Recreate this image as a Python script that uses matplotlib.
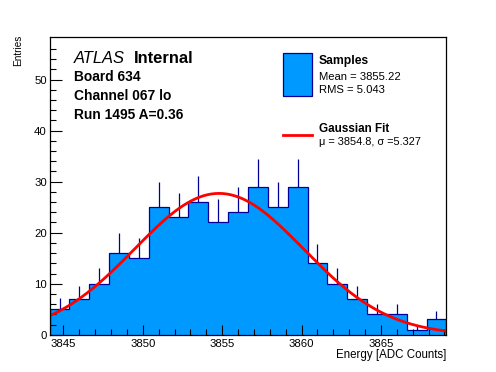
import numpy as np
import matplotlib
matplotlib.use("Agg")
import matplotlib.pyplot as plt
from matplotlib.patches import Rectangle
from matplotlib.lines import Line2D

plt.rcParams['font.family'] = ['Liberation Sans', 'DejaVu Sans']

# histogram data
bin_lo = 3844.125
bin_width = 1.25
counts = [5, 7, 10, 16, 15, 25, 23, 26, 22, 24, 29, 25, 29, 14, 10, 7, 4, 4, 1, 3]

# fit parameters shown in the legend
fit_amp = 27.7
fit_mu = 3854.8
fit_sigma = 5.327

fill_col = '#0099ff'
line_col = '#000099'

W, H = 496, 372
fig = plt.figure(figsize=(W / 100, H / 100), dpi=100)
ax = fig.add_axes([0.1, 0.1, 0.8, 0.8])

counts = np.array(counts, dtype=float)
edges = bin_lo + bin_width * np.arange(len(counts) + 1)
centers = 0.5 * (edges[:-1] + edges[1:])

ax.stairs(counts, edges, fill=True, color=fill_col, lw=0)
ax.stairs(counts, edges, fill=False, color=line_col, lw=0.9)
# upper half of the error bars (lower half is hidden by the fill)
ax.vlines(centers, counts, counts + np.sqrt(counts), color=line_col, lw=0.9)

xs = np.linspace(edges[0], edges[-1], 300)
ax.plot(xs, fit_amp * np.exp(-0.5 * ((xs - fit_mu) / fit_sigma) ** 2), color='#ff0000', lw=2)

ax.set_xlim(edges[0], edges[-1])
ax.set_ylim(0, 58.3)
ax.set_xticks(np.arange(3845, 3870, 5))
ax.set_xticks(np.arange(3845, 3870, 1), minor=True)
ax.set_yticks(np.arange(0, 60, 10))
ax.set_yticks(np.arange(0, 58, 2), minor=True)
ax.tick_params(axis='both', which='both', direction='in', labelsize=8.2, width=0.8)
ax.tick_params(axis='x', which='major', length=7.5, pad=3)
ax.tick_params(axis='x', which='minor', length=4)
ax.tick_params(axis='y', which='major', length=8.5, pad=2)
ax.tick_params(axis='y', which='minor', length=4)
for s in ax.spines.values():
    s.set_linewidth(0.9)


def px(x, y):
    return x / W, 1 - y / H


fig.text(*px(446, 358), 'Energy [ADC Counts]', ha='right', va='baseline', fontsize=8.3)
fig.text(*px(18.5, 35), 'Entries', ha='center', va='top', rotation=90, fontsize=7.2)

fig.text(*px(74, 63), 'ATLAS', style='italic', ha='left', va='baseline', fontsize=11.9)
fig.text(*px(134.3, 63), 'Internal', weight='bold', ha='left', va='baseline', fontsize=11.9)
fig.text(*px(74, 81), 'Board 634', weight='bold', ha='left', va='baseline', fontsize=9.9)
fig.text(*px(74, 100), 'Channel 067 lo', weight='bold', ha='left', va='baseline', fontsize=9.9)
fig.text(*px(74, 119), 'Run 1495 A=0.36', weight='bold', ha='left', va='baseline', fontsize=9.9)

# legend
x0, y0 = px(283.3, 96)
x1, y1 = px(311.7, 53.3)
fig.add_artist(Rectangle((x0, y0), x1 - x0, y1 - y0, transform=fig.transFigure,
                         facecolor=fill_col, edgecolor=line_col, lw=0.9))
lx0, ly = px(283, 135)
lx1, _ = px(312, 135)
fig.add_artist(Line2D([lx0, lx1], [ly, ly], transform=fig.transFigure, color='#ff0000', lw=2))
fig.text(*px(318.8, 64.3), 'Samples', weight='bold', ha='left', va='baseline', fontsize=8.7)
fig.text(*px(318.8, 80), 'Mean = 3855.22', ha='left', va='baseline', fontsize=8.1)
fig.text(*px(318.8, 93.3), 'RMS = 5.043', ha='left', va='baseline', fontsize=8.1)
fig.text(*px(318.8, 132.3), 'Gaussian Fit', weight='bold', ha='left', va='baseline', fontsize=8.4)
fig.text(*px(318.8, 145), 'μ = 3854.8, σ =5.327', ha='left', va='baseline', fontsize=7.9)

fig.savefig('out.png', dpi=100)
